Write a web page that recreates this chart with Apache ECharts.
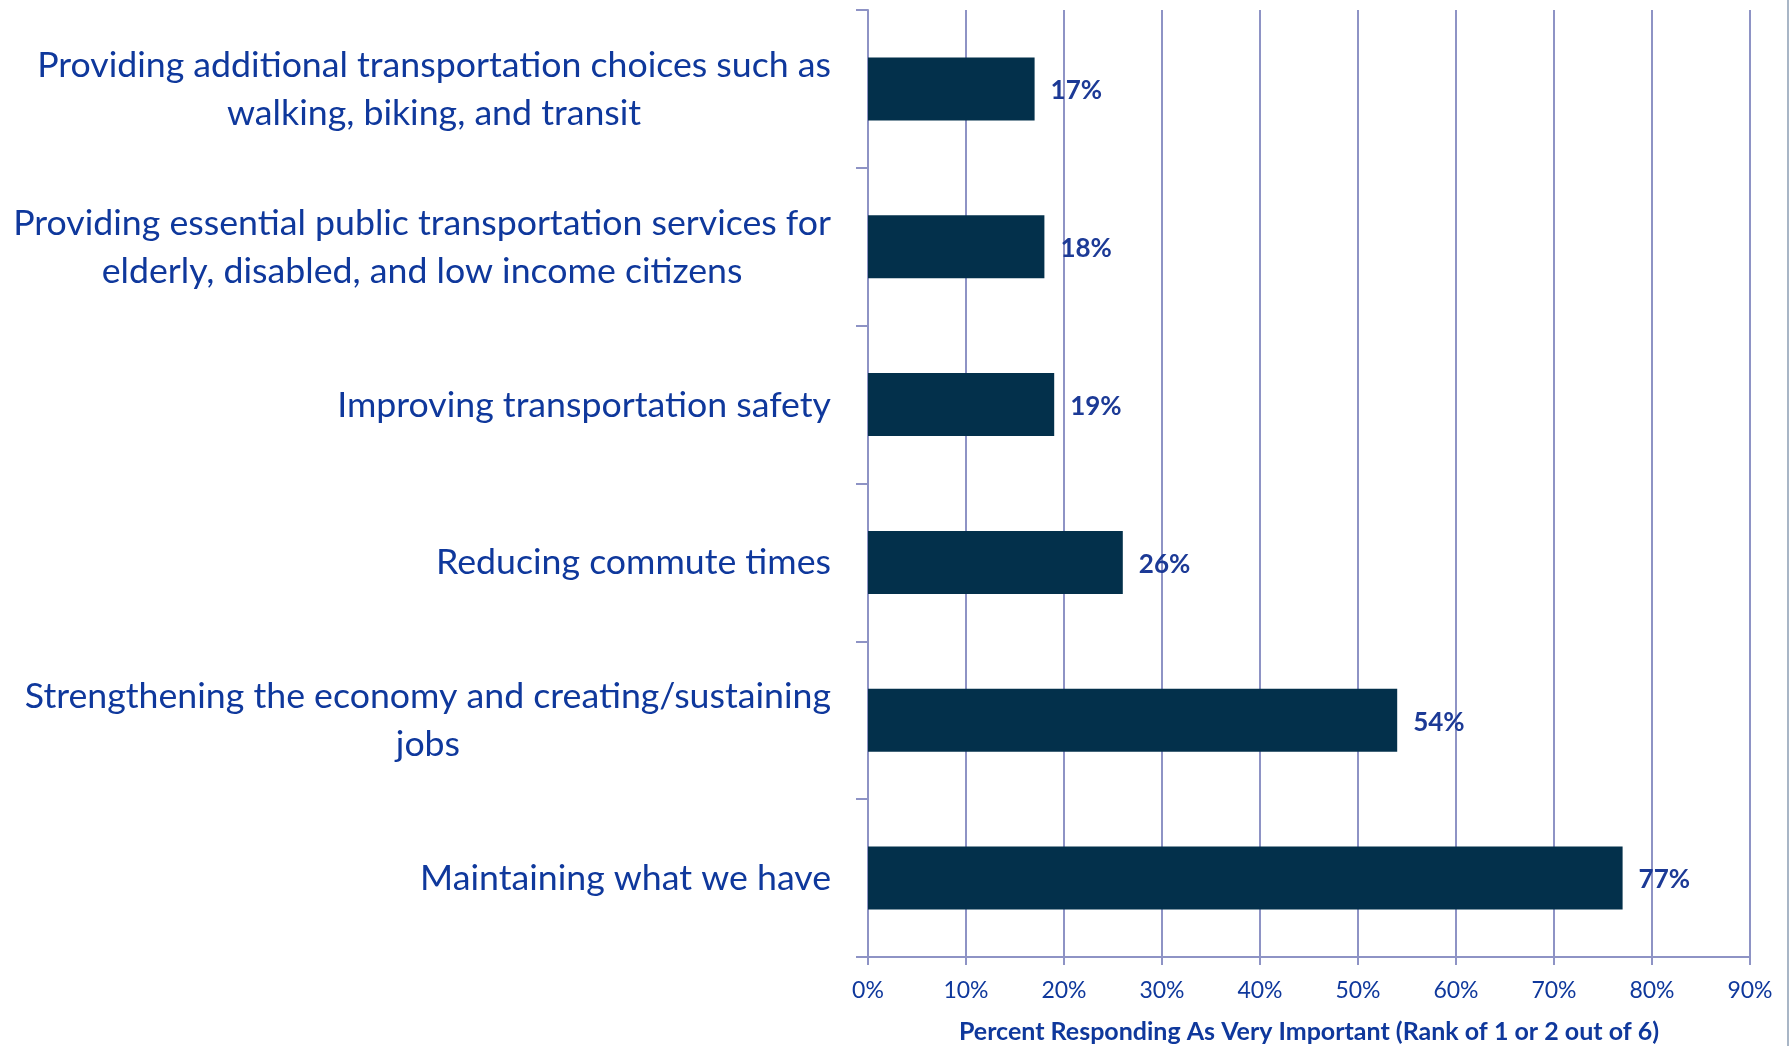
<!DOCTYPE html>
<html>
<head>
<meta charset="utf-8">
<script src="https://cdn.jsdelivr.net/npm/echarts@6/dist/echarts.min.js"></script>
<style>
  html, body { margin: 0; padding: 0; background: #fff; }
  #chart { width: 1789px; height: 1046px; }
</style>
</head>
<body>
<div id="chart"></div>
<script>
// categories, top to bottom (lines split as in the original slide)
var categories = [
  ['Providing additional transportation choices such as', 'walking, biking, and transit'],
  ['Providing essential public transportation services for', 'elderly, disabled, and low income citizens'],
  ['Improving transportation safety'],
  ['Reducing commute times'],
  ['Strengthening the economy and creating/sustaining', 'jobs'],
  ['Maintaining what we have']
];
var values = [17, 18, 19, 26, 54, 77];
var xTicks = [0, 10, 20, 30, 40, 50, 60, 70, 80, 90];
var axisTitle = 'Percent Responding As Very Important (Rank of 1 or 2 out of 6)';

var textBlue = '#0f389c';
var gridColor = '#8e93c5';
var font = 'Lato, "Open Sans", sans-serif';

var chart = echarts.init(document.getElementById('chart'));
chart.setOption({
  animation: false,
  grid: { left: 868, right: 39, top: 10, bottom: 89, outerBoundsMode: 'none', containLabel: false },
  xAxis: {
    type: 'value',
    min: xTicks[0],
    max: xTicks[xTicks.length - 1],
    interval: 10,
    name: axisTitle,
    nameLocation: 'middle',
    nameGap: 62,
    nameTextStyle: { color: textBlue, fontFamily: font, fontWeight: 'bold', fontSize: 25 },
    axisLine: { show: true, lineStyle: { color: gridColor, width: 2 } },
    axisTick: { show: true, length: 8, lineStyle: { color: gridColor, width: 2 } },
    splitLine: { show: true, lineStyle: { color: gridColor, width: 2 } },
    axisLabel: {
      color: textBlue, fontFamily: font, fontSize: 23, margin: 22,
      formatter: function (v) { return v + '%'; }
    }
  },
  yAxis: {
    type: 'category',
    inverse: true,
    data: categories.map(function (c) { return c.join('\n'); }),
    axisLine: { show: true, lineStyle: { color: gridColor, width: 2 } },
    axisTick: { show: true, length: 12, lineStyle: { color: gridColor, width: 2 } },
    splitLine: { show: false },
    axisLabel: {
      margin: 37,
      align: 'right',
      formatter: function (v) {
        return v.split('\n').map(function (l) { return '{a|' + l + '}'; }).join('\n');
      },
      rich: {
        a: { color: textBlue, fontFamily: font, fontSize: 35.7, lineHeight: 48, align: 'center', padding: [1, 0, 0, 0] }
      }
    }
  },
  series: [{
    type: 'bar',
    data: values,
    barWidth: 63,
    itemStyle: { color: '#03304b' },
    label: {
      show: true,
      position: 'right',
      distance: 16,
      offset: [0, 2],
      color: '#1c3a96',
      fontFamily: font,
      fontWeight: 'bold',
      fontSize: 26,
      formatter: '{c}%'
    }
  }],
  graphic: [{
    type: 'line',
    shape: { x1: 1788, y1: 0, x2: 1788, y2: 1046 },
    style: { stroke: '#a9b6c6', lineWidth: 2 }
  }]
});
</script>
</body>
</html>
